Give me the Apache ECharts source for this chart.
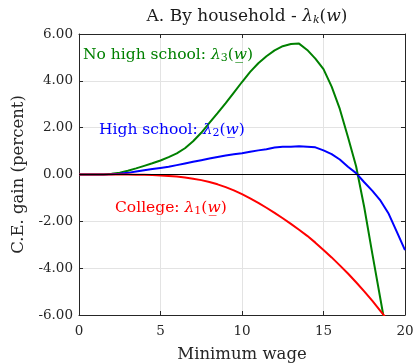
<!DOCTYPE html>
<html><head><meta charset="utf-8">
<script src="https://cdn.jsdelivr.net/npm/echarts@6/dist/echarts.min.js"></script>
<style>html,body{margin:0;padding:0;background:#fff}#c{width:415px;height:364px}</style>
</head><body><div id="c"></div>
<script>
const wage = [0,0.5,1,1.5,2,2.5,3,3.5,4,4.5,5,5.5,6,6.5,7,7.5,8,8.5,9,9.5,10,10.5,11,11.5,12,12.5,13,13.5,14,14.5,15,15.5,16,16.5,17,17.5,18,18.5,19,19.5,20];
const noHighSchool = [0,0,0,0.005,0.03,0.08,0.16,0.26,0.37,0.48,0.6,0.74,0.9,1.12,1.42,1.78,2.2,2.62,3.05,3.5,3.95,4.38,4.75,5.05,5.3,5.48,5.57,5.59,5.32,4.95,4.5,3.75,2.8,1.6,0.35,-1.4,-3.4,-5.35,-7.3,null,null];
const highSchool = [0,0,0,0,0.01,0.03,0.07,0.13,0.18,0.23,0.28,0.33,0.4,0.47,0.54,0.61,0.68,0.75,0.81,0.86,0.91,0.97,1.03,1.08,1.15,1.19,1.19,1.21,1.19,1.16,1.03,0.87,0.64,0.33,0.06,-0.33,-0.7,-1.12,-1.68,-2.45,-3.23];
const college = [0,0,0,0,0,-0.001,-0.004,-0.008,-0.015,-0.025,-0.04,-0.06,-0.09,-0.13,-0.18,-0.24,-0.32,-0.42,-0.54,-0.68,-0.84,-1.02,-1.21,-1.42,-1.64,-1.87,-2.11,-2.36,-2.62,-2.91,-3.22,-3.54,-3.88,-4.23,-4.6,-4.99,-5.4,-5.83,-6.28,null,null];
const xTicks = [0,5,10,15,20];
const yTicks = [-6,-4,-2,0,2,4,6];

const FONT = '"DejaVu Serif", serif';
const pair = arr => wage.map((w,i)=>[w, arr[i]]);
const axisCol = '#262626';
const gridCol = '#e3e3e3';

function xAx(pos, show) {
  return {type:'value', position:pos, min:xTicks[0], max:xTicks[xTicks.length-1], interval:xTicks[1]-xTicks[0],
    axisLine:{show:true, onZero:false, lineStyle:{color:axisCol, width:1}},
    axisTick:{show:true, inside:true, length:4, lineStyle:{color:axisCol}},
    axisLabel:{show:show, color:'#262626', fontFamily:FONT, fontSize:13.5, margin:9},
    splitLine:{show:show, lineStyle:{color:gridCol, width:1}},
    name: show ? 'Minimum wage' : '', nameLocation:'middle', nameGap:31,
    nameTextStyle:{color:'#262626', fontFamily:FONT, fontSize:16.5}};
}
function yAx(pos, show) {
  return {type:'value', position:pos, min:yTicks[0], max:yTicks[yTicks.length-1], interval:yTicks[1]-yTicks[0],
    axisLine:{show:true, onZero:false, lineStyle:{color:axisCol, width:1}},
    axisTick:{show:true, inside:true, length:4, lineStyle:{color:axisCol}},
    axisLabel:{show:show, color:'#262626', fontFamily:FONT, fontSize:13.5, margin:6,
      formatter: v => v.toFixed(2)},
    splitLine:{show:show, lineStyle:{color:gridCol, width:1}},
    name: show ? 'C.E. gain (percent)' : '', nameLocation:'middle', nameGap:52,
    nameTextStyle:{color:'#262626', fontFamily:FONT, fontSize:16.5}};
}
function ser(name, arr, color, extra) {
  return Object.assign({name, type:'line', data:pair(arr), showSymbol:false, symbol:'none',
    smooth:false, clip:true, lineStyle:{color, width:2}, itemStyle:{color}, connectNulls:false, z:3}, extra||{});
}
function lab(x, y, color, txt, sub) {
  return {type:'text', left:x, top:y, z:10, style:{
    text:'{t|' + txt + '}{i|λ}{s|' + sub + '}{t|(}{i|w\u0332}{t|)}',
    fill:color,
    rich:{t:{fontFamily:FONT, fontSize:15.5, fill:color},
          i:{fontFamily:FONT, fontSize:15.5, fontStyle:'italic', fill:color},
          s:{fontFamily:FONT, fontSize:11, fill:color, verticalAlign:'bottom', padding:[6,0,0,0]}}}};
}

const chart = echarts.init(document.getElementById('c'), null, {renderer:'canvas'});
chart.setOption({
  animation:false,
  backgroundColor:'#fff',
  grid:{left:79, right:10, top:34, bottom:49, containLabel:false, outerBoundsMode:'none'},
  title:{text:'{t|A. By household - }{i|λ}{s|k}{t|(}{i|w}{t|)}', left:242, top:3, textAlign:'center',
    textStyle:{fontWeight:'normal', rich:{t:{fontFamily:FONT, fontSize:17, fontWeight:'normal', color:'#1a1a1a'},
      i:{fontFamily:FONT, fontSize:17, fontStyle:'italic', fontWeight:'normal', color:'#1a1a1a'},
      s:{fontFamily:FONT, fontSize:11, fontStyle:'italic', fontWeight:'normal', color:'#1a1a1a', verticalAlign:'bottom', padding:[7,0,0,0]}}}},
  xAxis:[xAx('bottom', true), xAx('top', false)],
  yAxis:[yAx('left', true), yAx('right', false)],
  series:[
    ser('No high school', noHighSchool, '#008000', {markLine:{silent:true, symbol:'none', label:{show:false},
      lineStyle:{color:'#000', width:1.2, type:'solid'}, data:[{yAxis:0}]}, z:2}),
    ser('High school', highSchool, '#0000ff'),
    ser('College', college, '#ff0000')
  ],
  graphic:[
    lab(83, 47, '#008000', 'No high school: ', '3'),
    lab(99, 122, '#0000ff', 'High school: ', '2'),
    lab(115, 200, '#ff0000', 'College: ', '1')
  ]
});
</script></body></html>
